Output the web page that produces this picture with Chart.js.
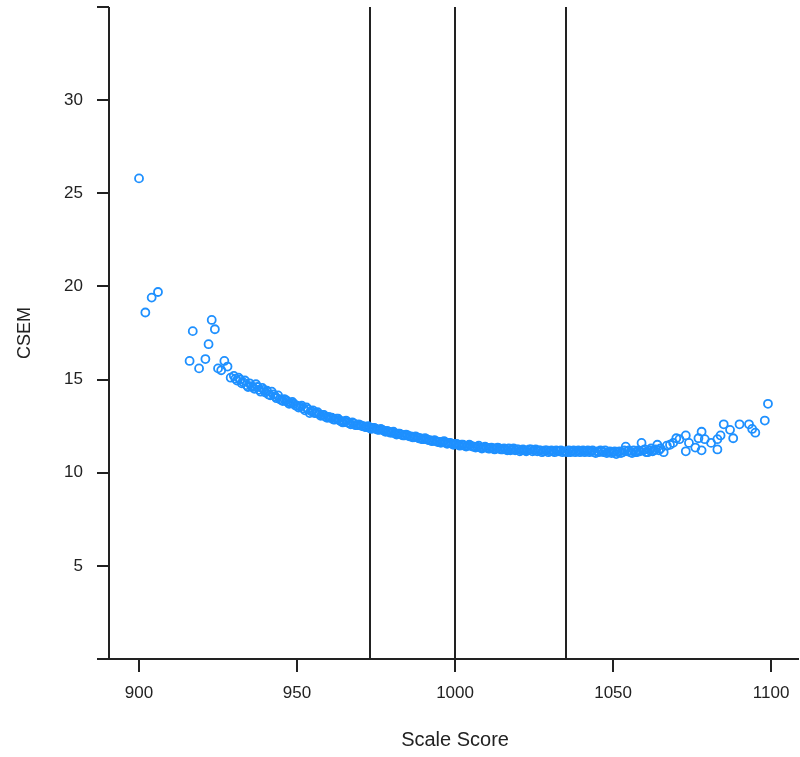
<!DOCTYPE html>
<html>
<head>
<meta charset="utf-8">
<script src="https://cdn.jsdelivr.net/npm/chart.js@4/dist/chart.umd.min.js"></script>
<style>
  html, body { margin: 0; padding: 0; background: #fff; }
  #wrap { width: 800px; height: 757px; position: relative; }
</style>
</head>
<body>
<div id="wrap"><canvas id="csemChart" width="800" height="757"></canvas></div>
<script>
// scale scores (x) and CSEM (y)
const scores = [
  900, 902, 904, 906, 916, 917, 919, 921, 922, 923, 924, 925, 926, 927, 928, 929,
  930, 931, 932, 933, 934, 935, 936, 937, 938, 939, 940, 941, 942, 943, 944, 945,
  946, 947, 948, 949, 950, 951, 952, 953, 954, 955, 956, 957, 958, 959, 960, 961,
  962, 963, 964, 965, 966, 967, 968, 969, 970, 971, 972, 973, 974, 975, 976, 977,
  978, 979, 980, 981, 982, 983, 984, 985, 986, 987, 988, 989, 990, 991, 992, 993,
  994, 995, 996, 997, 998, 999, 1000, 1001, 1002, 1003, 1004, 1005, 1006, 1007, 1008, 1009,
  1010, 1011, 1012, 1013, 1014, 1015, 1016, 1017, 1018, 1019, 1020, 1021, 1022, 1023, 1024, 1025,
  1026, 1027, 1028, 1029, 1030, 1031, 1032, 1033, 1034, 1035, 1036, 1037, 1038, 1039, 1040, 1041,
  1042, 1043, 1044, 1045, 1046, 1047, 1048, 1049, 1050, 1051, 1052, 1053, 1054, 1055, 1056, 1057,
  1058, 1059, 1060, 1061, 1062, 1063, 1064, 1065, 1066, 1067, 1068, 1069, 1070, 1071, 1073, 1073,
  1074, 1076, 1077, 1078, 1078, 1079, 1081, 1083, 1083, 1084, 1085, 1087, 1088, 1090, 1093, 1094,
  1095, 1098, 1099
];
const csem = [
  25.8, 18.6, 19.4, 19.7, 16.0, 17.6, 15.6, 16.1, 16.9, 18.2, 17.7, 15.6, 15.5, 16.0, 15.7, 15.1,
  15.2, 14.95, 15.0, 14.85, 14.7, 14.8, 14.6, 14.75, 14.45, 14.55, 14.3, 14.2, 14.35, 14.1, 14.15, 13.9,
  13.95, 13.8, 13.75, 13.7, 13.6, 13.55, 13.45, 13.5, 13.2, 13.35, 13.2, 13.15, 13.1, 13.0, 13.0, 12.95,
  12.85, 12.9, 12.75, 12.75, 12.7, 12.6, 12.65, 12.55, 12.55, 12.5, 12.45, 12.4, 12.4, 12.35, 12.3, 12.3,
  12.2, 12.2, 12.15, 12.1, 12.1, 12.05, 12.0, 12.0, 11.95, 11.9, 11.9, 11.85, 11.8, 11.8, 11.75, 11.7,
  11.7, 11.65, 11.65, 11.6, 11.6, 11.55, 11.55, 11.5, 11.5, 11.45, 11.45, 11.45, 11.4, 11.4, 11.35, 11.35,
  11.35, 11.3, 11.3, 11.3, 11.3, 11.25, 11.25, 11.3, 11.25, 11.2, 11.25, 11.2, 11.2, 11.2, 11.25, 11.2,
  11.15, 11.2, 11.15, 11.2, 11.15, 11.15, 11.2, 11.15, 11.1, 11.15, 11.2, 11.15, 11.1, 11.2, 11.15, 11.1,
  11.2, 11.15, 11.1, 11.15, 11.2, 11.1, 11.05, 11.15, 11.1, 11.0, 11.15, 11.1, 11.4, 11.2, 11.05, 11.1,
  11.2, 11.6, 11.25, 11.1, 11.3, 11.2, 11.5, 11.3, 11.1, 11.45, 11.5, 11.6, 11.85, 11.8, 12.0, 11.15,
  11.6, 11.35, 11.85, 12.2, 11.2, 11.8, 11.6, 11.8, 11.25, 12.0, 12.6, 12.3, 11.85, 12.6, 12.6, 12.35,
  12.15, 12.8, 13.7
];

// extra points sitting in the dense band (half-point scores)
const bandScores = [
  930.5, 931.5, 932.5, 933.5, 934.5, 935.5, 936.5, 937.5, 938.5, 939.5, 940.5, 941.5, 942.5, 943.5, 944.5,
  945.5, 946.5, 947.5, 948.5, 949.5, 950.5, 951.5, 952.5, 953.5, 954.5, 955.5, 956.5, 957.5, 958.5, 959.5,
  960.5, 961.5, 962.5, 963.5, 964.5, 965.5, 966.5, 967.5, 968.5, 969.5, 970.5, 971.5, 972.5, 973.5, 974.5,
  975.5, 976.5, 977.5, 978.5, 979.5, 980.5, 981.5, 982.5, 983.5, 984.5, 985.5, 986.5, 987.5, 988.5, 989.5,
  990.5, 991.5, 992.5, 993.5, 994.5, 995.5, 996.5, 997.5, 998.5, 999.5, 1000.5, 1001.5, 1002.5, 1003.5, 1004.5,
  1005.5, 1006.5, 1007.5, 1008.5, 1009.5, 1010.5, 1011.5, 1012.5, 1013.5, 1014.5, 1015.5, 1016.5, 1017.5, 1018.5, 1019.5,
  1020.5, 1021.5, 1022.5, 1023.5, 1024.5, 1025.5, 1026.5, 1027.5, 1028.5, 1029.5, 1030.5, 1031.5, 1032.5, 1033.5, 1034.5,
  1035.5, 1036.5, 1037.5, 1038.5, 1039.5, 1040.5, 1041.5, 1042.5, 1043.5, 1044.5, 1045.5, 1046.5, 1047.5, 1048.5, 1049.5,
  1050.5, 1051.5, 1052.5, 1053.5, 1054.5, 1055.5, 1056.5, 1057.5, 1058.5, 1059.5, 1060.5, 1061.5, 1062.5, 1063.5, 1064.5
];
const bandCsem = [
  15.05, 15.1, 14.8, 14.95, 14.6, 14.65, 14.5, 14.6, 14.35, 14.45, 14.4, 14.15, 14.2, 14.0, 13.95,
  13.85, 13.9, 13.7, 13.8, 13.6, 13.5, 13.6, 13.35, 13.4, 13.3, 13.2, 13.25, 13.05, 13.1, 12.95,
  12.95, 12.85, 12.9, 12.8, 12.7, 12.8, 12.65, 12.7, 12.55, 12.6, 12.5, 12.45, 12.5, 12.35, 12.4,
  12.3, 12.35, 12.25, 12.25, 12.15, 12.2, 12.05, 12.1, 12.0, 12.05, 11.95, 11.9, 11.95, 11.85, 11.8,
  11.85, 11.75, 11.7, 11.75, 11.65, 11.6, 11.7, 11.55, 11.6, 11.5, 11.55, 11.45, 11.5, 11.4, 11.5,
  11.4, 11.35, 11.45, 11.3, 11.4, 11.3, 11.35, 11.25, 11.35, 11.25, 11.3, 11.2, 11.2, 11.3, 11.25,
  11.15, 11.25, 11.15, 11.25, 11.15, 11.25, 11.2, 11.1, 11.2, 11.1, 11.2, 11.1, 11.15, 11.2, 11.15,
  11.1, 11.1, 11.2, 11.15, 11.1, 11.2, 11.15, 11.1, 11.2, 11.05, 11.1, 11.15, 11.2, 11.1, 11.05,
  11.15, 11.1, 11.05, 11.2, 11.15, 11.1, 11.2, 11.1, 11.15, 11.2, 11.1, 11.2, 11.15, 11.25, 11.2
];

// vertical cut lines
const cutScores = [973, 1000, 1035];

// axis ticks
const xTicks = [900, 950, 1000, 1050, 1100];
const yTicks = [5, 10, 15, 20, 25, 30];

// R-style axes, cut lines and titles
const axesPlugin = {
  id: "rAxes",
  beforeDatasetsDraw(chart) {
    const c = chart.ctx;
    const xs = chart.scales.x;
    const area = chart.chartArea;
    c.save();
    c.strokeStyle = "#222";
    c.lineWidth = 2;
    cutScores.forEach(v => {
      const px = Math.round(xs.getPixelForValue(v));
      c.beginPath();
      c.moveTo(px, area.top);
      c.lineTo(px, area.bottom);
      c.stroke();
    });
    c.restore();
  },
  afterDraw(chart) {
    const c = chart.ctx;
    const xs = chart.scales.x;
    const ys = chart.scales.y;
    const area = chart.chartArea;
    const left = area.left;
    const bottom = area.bottom;

    c.save();
    c.strokeStyle = "#222";
    c.lineWidth = 2;

    // y axis line and ticks (0 and 35 ends get a tick too)
    c.beginPath();
    c.moveTo(left, area.top);
    c.lineTo(left, bottom);
    [0].concat(yTicks, [35]).forEach(v => {
      const py = Math.round(ys.getPixelForValue(v));
      c.moveTo(left - 12, py);
      c.lineTo(left, py);
    });
    // x axis line runs to the right edge
    c.moveTo(left, bottom);
    c.lineTo(chart.width - 1, bottom);
    xTicks.forEach(v => {
      const px = Math.round(xs.getPixelForValue(v));
      c.moveTo(px, bottom);
      c.lineTo(px, bottom + 13);
    });
    c.stroke();

    c.fillStyle = "#222";
    c.font = "17px 'Liberation Sans', Arial, sans-serif";
    c.textAlign = "right";
    c.textBaseline = "middle";
    yTicks.forEach(v => {
      c.fillText(String(v), left - 26, ys.getPixelForValue(v));
    });
    c.textAlign = "center";
    c.textBaseline = "top";
    xTicks.forEach(v => {
      c.fillText(String(v), xs.getPixelForValue(v), bottom + 26);
    });

    c.font = "20px 'Liberation Sans', Arial, sans-serif";
    c.textBaseline = "middle";
    c.fillText("Scale Score", xs.getPixelForValue(1000), bottom + 81);

    c.translate(25, (area.top + bottom) / 2);
    c.rotate(-Math.PI / 2);
    c.font = "18px 'Liberation Sans', Arial, sans-serif";
    c.fillText("CSEM", 0, 0);
    c.restore();
  }
};

function drawChart() {
  const ctx = document.getElementById("csemChart").getContext("2d");
  const points = scores.map((s, i) => ({ x: s, y: csem[i] }))
    .concat(bandScores.map((s, i) => ({ x: s, y: bandCsem[i] })));

  new Chart(ctx, {
    type: "scatter",
    data: {
      datasets: [{
        data: points,
        borderColor: "#1E90FF",
        backgroundColor: "rgba(0,0,0,0)",
        borderWidth: 1.8,
        pointRadius: 4,
        pointHoverRadius: 4
      }]
    },
    options: {
      responsive: false,
      animation: false,
      layout: { padding: { left: 109, right: 0, top: 7, bottom: 98 } },
      plugins: {
        legend: { display: false },
        tooltip: { enabled: false }
      },
      scales: {
        x: { type: "linear", min: 890.5, max: 1107.3, display: false },
        y: { type: "linear", min: 0, max: 35, display: false }
      }
    },
    plugins: [axesPlugin]
  });
}

drawChart();
</script>
</body>
</html>
